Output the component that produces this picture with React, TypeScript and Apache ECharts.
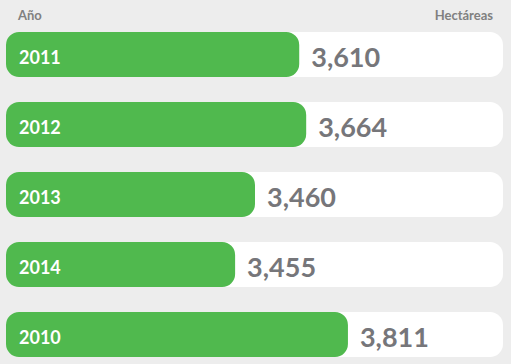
import React, { useEffect, useRef } from "react";
import * as echarts from "echarts";

const years = ["2011", "2012", "2013", "2014", "2010"];
const hectareas = [3610, 3664, 3460, 3455, 3811];
// visible fill of each green bar as a percent of its white track
const barFill = [59, 60.4, 50.1, 46.1, 68.8];
const trackMax = [100, 100, 100, 100, 100];
const headerLeft = "Año";
const headerRight = "Hectáreas";

export default function App() {
  const ref = useRef<HTMLDivElement>(null);
  useEffect(() => {
    document.body.style.margin = "0";
    const chart = echarts.init(ref.current!, null, { renderer: "svg" });
    const font = "Lato, 'Open Sans', sans-serif";
    chart.setOption({
      animation: false,
      backgroundColor: "#ededed",
      grid: { left: 6, width: 497, top: 19.5, height: 350, outerBoundsMode: "none", containLabel: false },
      xAxis: { type: "value", min: 0, max: 100, show: false },
      yAxis: {
        type: "category",
        data: years,
        inverse: true,
        show: false,
      },
      graphic: [
        {
          type: "text",
          left: 18,
          top: 8,
          style: { text: headerLeft, fill: "#808080", font: `bold 13px ${font}` },
        },
        {
          type: "text",
          right: 18,
          top: 8,
          style: { text: headerRight, fill: "#808080", font: `bold 13px ${font}` },
        },
      ],
      series: [
        {
          type: "bar",
          data: trackMax,
          barWidth: 45,
          barGap: "-100%",
          silent: true,
          itemStyle: { color: "#ffffff", borderRadius: 13 },
        },
        {
          type: "bar",
          data: barFill,
          barWidth: 45,
          barGap: "-100%",
          itemStyle: { color: "#50b94e", borderRadius: 13 },
          label: {
            show: true,
            position: "insideLeft",
            distance: 13,
            offset: [0, 2],
            formatter: (p: any) => years[p.dataIndex],
            color: "#ffffff",
            fontFamily: font,
            fontWeight: "bold",
            fontSize: 18,
          },
        },
        {
          type: "bar",
          data: barFill,
          barWidth: 45,
          barGap: "-100%",
          itemStyle: { color: "transparent" },
          label: {
            show: true,
            position: "right",
            distance: 12,
            offset: [0, 2],
            formatter: (p: any) => hectareas[p.dataIndex].toLocaleString("en-US"),
            color: "#76767a",
            fontFamily: font,
            fontWeight: "bold",
            fontSize: 27,
          },
        },
      ],
    });
    return () => chart.dispose();
  }, []);
  return (
    <div
      ref={ref}
      style={{ position: "absolute", left: 0, top: 0, width: 511, height: 364 }}
    />
  );
}
